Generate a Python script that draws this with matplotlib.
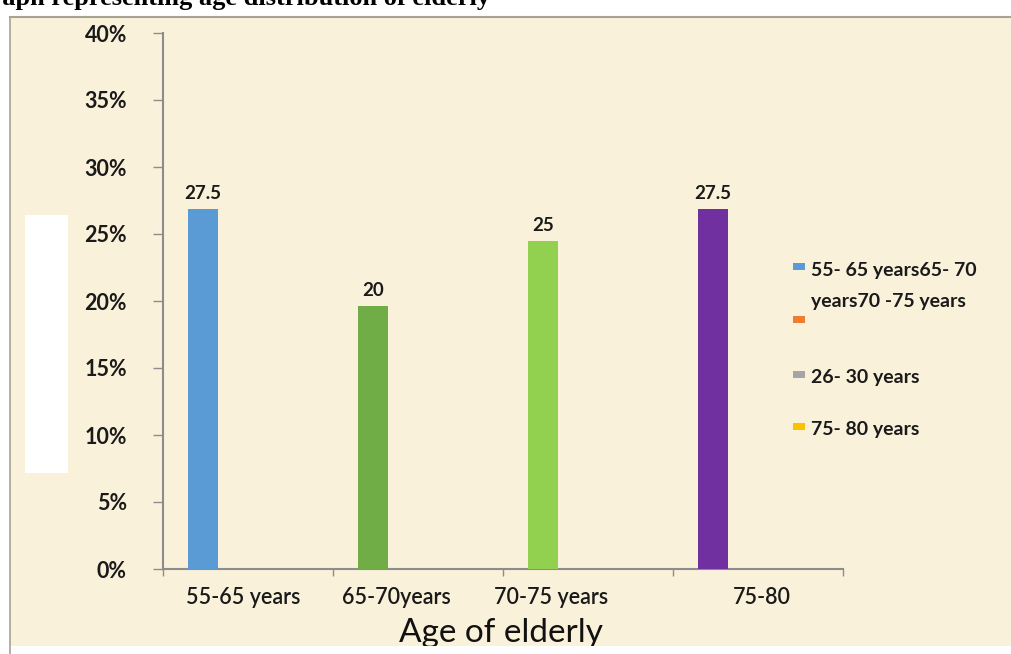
import matplotlib
matplotlib.use("Agg")
import matplotlib.pyplot as plt
from matplotlib.patches import Rectangle
from matplotlib.lines import Line2D
from matplotlib.ticker import FixedLocator, FixedFormatter, NullFormatter

# data
categories = ["55-65 years", "65-70years", "70-75 years", "75-80"]
bar_heights = [26.9, 19.6, 24.5, 26.9]          # percent, as drawn
bar_labels = ["27.5", "20", "25", "27.5"]
bar_colors = ["#5b9bd5", "#70ad47", "#92d050", "#7030a0"]
label_pos = [0.47, 1.37, 2.28, 3.52]            # where the category names sit
yticks = [0, 5, 10, 15, 20, 25, 30, 35, 40]
ytick_labels = ["%d%%" % v for v in yticks]

legend_labels = ["55- 65 years65- 70\nyears70 -75 years", "", "26- 30 years", "75- 80 years"]
legend_colors = ["#5b9bd5", "#ed7d31", "#a5a5a5", "#ffc000"]

W, H = 1011, 654
FONT = ["Lato", "DejaVu Sans"]


def fx(x):
    return x / W


def fy(y):
    return 1 - y / H


fig = plt.figure(figsize=(W / 100, H / 100), dpi=100)
fig.patch.set_facecolor("white")

# beige panel with border on top and left
bg = Rectangle((fx(10), fy(646)), 1 - fx(10), fy(17) - fy(646),
               transform=fig.transFigure, facecolor="#faf1da", edgecolor="none", zorder=0)
fig.add_artist(bg)
fig.add_artist(Line2D([fx(10), 1], [fy(17), fy(17)], transform=fig.transFigure,
                      color="#a8a294", lw=1.5))
fig.add_artist(Line2D([fx(10), fx(10)], [fy(17), 0], transform=fig.transFigure,
                      color="#a8a294", lw=1.2))
# white strip on the left
fig.add_artist(Rectangle((fx(25), fy(473)), fx(68) - fx(25), fy(215) - fy(473),
                         transform=fig.transFigure, facecolor="white", edgecolor="none"))

# title, cut off at the top of the picture (as in the source)
fig.text(fx(490), fy(5), "Graph representing age distribution of elderly",
         ha="right", va="baseline", fontsize=19, fontweight="bold",
         family="Liberation Serif")

ax = fig.add_axes([fx(163), fy(569), fx(843) - fx(163), fy(33) - fy(569)])
ax.set_facecolor("none")

x = [i + 0.235 for i in range(len(categories))]
ax.bar(x, bar_heights, width=0.18, color=bar_colors, zorder=3)
for xi, h, lab in zip(x, bar_heights, bar_labels):
    ax.annotate(lab, (xi, h), xytext=(0, 5), textcoords="offset points",
                ha="center", va="bottom", fontsize=13.5, fontweight="bold",
                family=FONT, color="#1a1a1a")

ax.set_xlim(0, 4)
ax.set_ylim(0, 40)
ax.set_yticks(yticks)
ax.set_yticklabels(ytick_labels, fontsize=15.5, fontweight="bold", family=FONT, color="#1a1a1a")
ax.tick_params(axis="y", direction="out", length=7, width=1, color="#8c8c8c", pad=19)

ax.xaxis.set_major_locator(FixedLocator([0, 1, 2, 3, 4]))
ax.xaxis.set_major_formatter(NullFormatter())
ax.xaxis.set_minor_locator(FixedLocator(label_pos))
ax.xaxis.set_minor_formatter(FixedFormatter(categories))
ax.tick_params(axis="x", which="major", direction="out", length=5, width=1, color="#8c8c8c")
ax.tick_params(axis="x", which="minor", length=0, pad=13, labelsize=15.5, labelcolor="#1a1a1a")
for t in ax.xaxis.get_minorticklabels():
    t.set_family(FONT)
    t.set_fontweight("semibold")

for s in ["top", "right"]:
    ax.spines[s].set_visible(False)
for s in ["left", "bottom"]:
    ax.spines[s].set_color("#8c8c8c")
    ax.spines[s].set_linewidth(1.5)

# axis title, clipped by the panel edge
t = fig.text(fx(501), fy(633), "Age of elderly", ha="center", va="center",
             fontsize=24, family=FONT, color="#111111")
t.set_clip_path(bg)

# legend drawn by hand
ly = [267, 319, 374, 426]
for lab, col, y in zip(legend_labels, legend_colors, ly):
    fig.add_artist(Rectangle((fx(793), fy(y + 3.5)), fx(12), 7 / H,
                             transform=fig.transFigure, facecolor=col, edgecolor="none"))
    if lab:
        fig.text(fx(811), fy(y - 5), lab, ha="left", va="top", fontsize=14,
                 fontweight="bold", family=FONT, color="#1a1a1a", linespacing=2.0)

fig.savefig("out.png", dpi=100)
